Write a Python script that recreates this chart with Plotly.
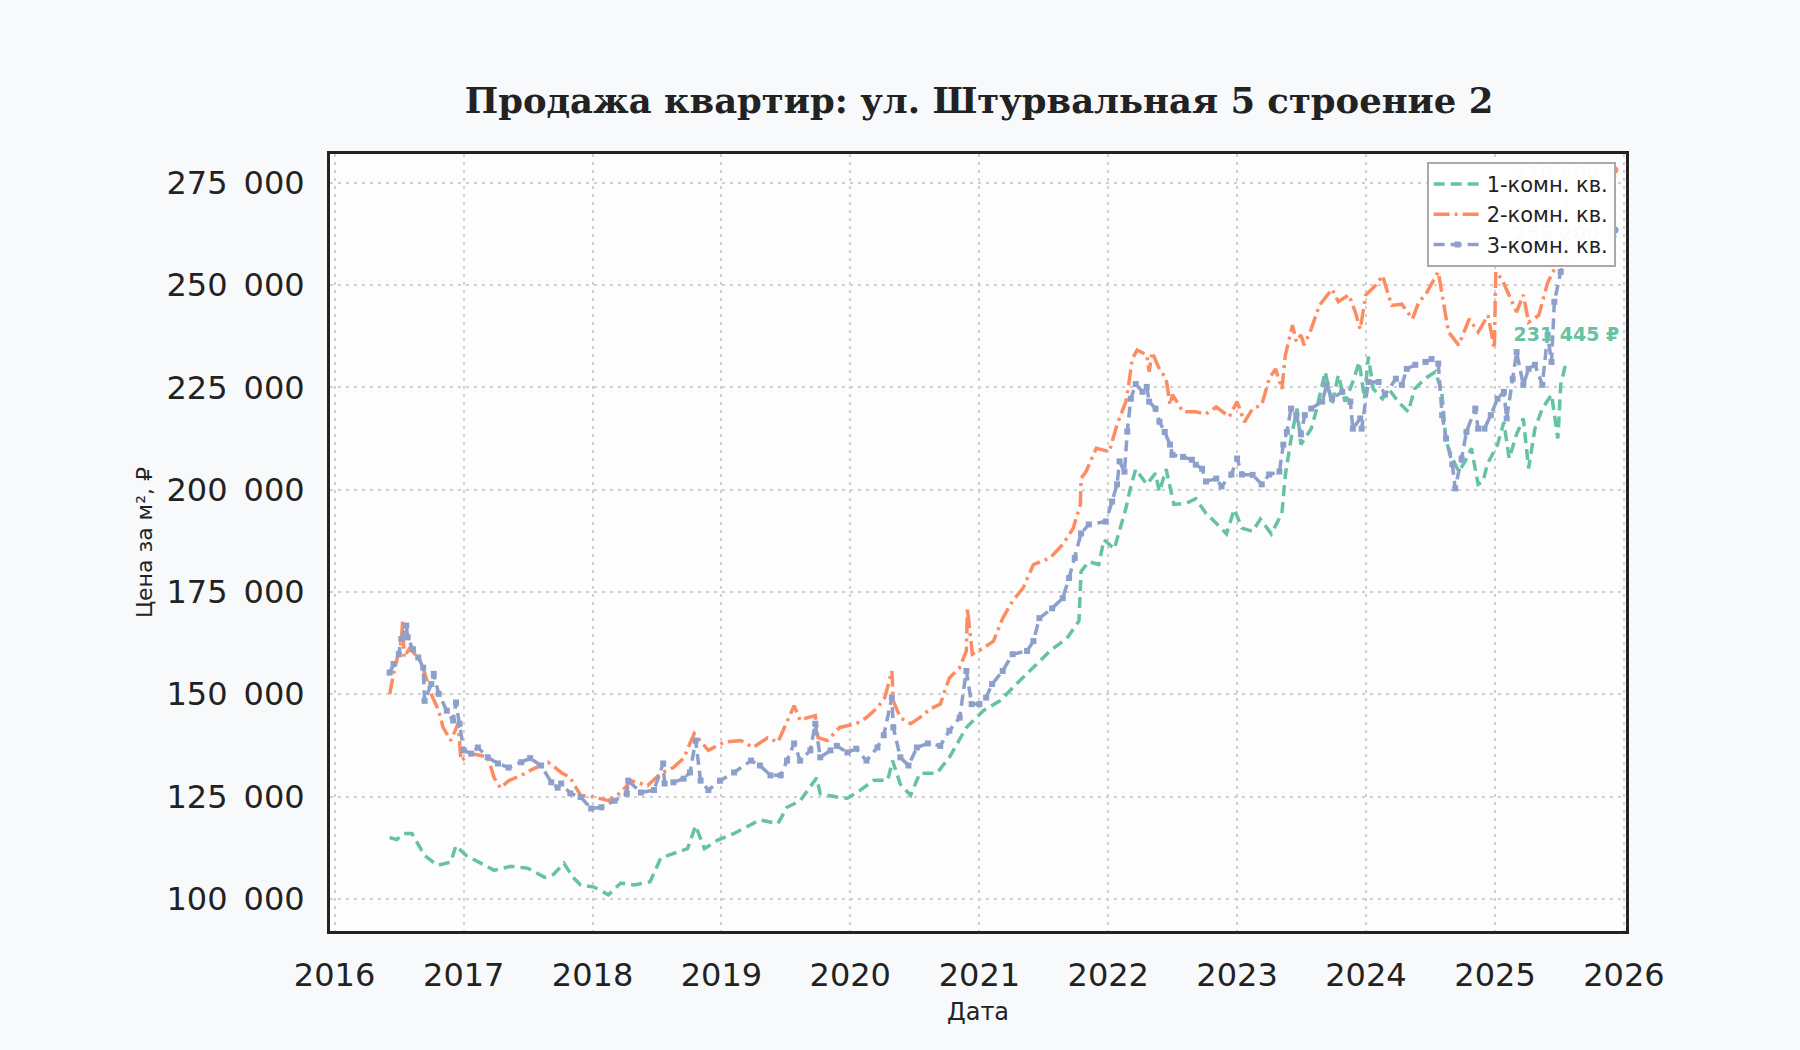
import plotly.graph_objects as go

# 1-комн. кв.
dates_1 = [
    "2016-06-05", "2016-06-25", "2016-07-15", "2016-08-07", "2016-09-12", "2016-10-18",
    "2016-11-25", "2016-12-10", "2017-01-08", "2017-02-20", "2017-03-28", "2017-05-15",
    "2017-07-01", "2017-08-18", "2017-09-12", "2017-10-12", "2017-11-06", "2017-11-28",
    "2018-01-05", "2018-02-15", "2018-03-22", "2018-04-28", "2018-06-13", "2018-07-13",
    "2018-08-18", "2018-09-27", "2018-10-20", "2018-11-14", "2018-12-20", "2019-02-06",
    "2019-04-20", "2019-06-10", "2019-07-06", "2019-08-12", "2019-09-28", "2019-10-08",
    "2019-11-24", "2019-12-24", "2020-01-30", "2020-03-08", "2020-04-16", "2020-04-30",
    "2020-05-22", "2020-06-20", "2020-07-16", "2020-09-02", "2020-10-08", "2020-11-25",
    "2021-01-12", "2021-02-28", "2021-04-16", "2021-06-03", "2021-07-20", "2021-09-06",
    "2021-10-10", "2021-10-16", "2021-11-07", "2021-12-05", "2021-12-20", "2022-01-18",
    "2022-02-02", "2022-02-20", "2022-03-06", "2022-03-20", "2022-04-20", "2022-05-15",
    "2022-05-26", "2022-06-14", "2022-07-06", "2022-08-11", "2022-09-06", "2022-10-05",
    "2022-11-03", "2022-12-02", "2022-12-24", "2023-01-15", "2023-02-14", "2023-03-08",
    "2023-04-08", "2023-05-08", "2023-05-18", "2023-05-26", "2023-06-05", "2023-06-20",
    "2023-07-01", "2023-07-30", "2023-08-10", "2023-09-08", "2023-09-27", "2023-10-15",
    "2023-11-03", "2023-11-25", "2023-12-13", "2023-12-28", "2024-01-08", "2024-01-22",
    "2024-02-17", "2024-03-06", "2024-04-01", "2024-04-30", "2024-05-18", "2024-06-18",
    "2024-07-16", "2024-08-03", "2024-08-15", "2024-09-02", "2024-09-20", "2024-10-08",
    "2024-10-26", "2024-11-14", "2024-11-28", "2024-12-10", "2025-01-08", "2025-01-26",
    "2025-02-10", "2025-03-03", "2025-03-22", "2025-04-06", "2025-04-24", "2025-05-15",
    "2025-06-10", "2025-06-28", "2025-07-06", "2025-07-22",
]
price_1 = [
    115000, 114500, 116000, 116000, 110600, 108200,
    109000, 113000, 110600, 108700, 107000, 108000,
    107500, 105300, 106000, 108700, 105300, 103400,
    102900, 101000, 103900, 103400, 104200, 110000,
    111000, 112300, 117900, 112300, 114300, 116000,
    119300, 118400, 122400, 124000, 129600, 125700,
    124900, 124600, 126600, 129000, 129000, 133800,
    128000, 125300, 130700, 130700, 134600, 141900,
    146000, 148400, 152500, 156500, 160600, 163700,
    167900, 180000, 182400, 181700, 187800, 185500,
    189800, 195400, 200800, 205000, 201300, 204000,
    199500, 205000, 196400, 196700, 197800, 194200,
    191800, 189200, 195200, 190600, 189800, 192800,
    189200, 194200, 203700, 208500, 213500, 219800,
    211000, 214900, 218200, 228800, 220700, 228000,
    221500, 226300, 231200, 222200, 232500, 224600,
    222200, 224600, 221500, 219000, 224600, 227200,
    228800, 223900, 211800, 207600, 204400, 206900,
    210100, 201300, 202000, 206200, 211000, 216500,
    207600, 213500, 217400, 205200, 214900, 219800,
    223200, 212500, 225600, 231445,
]

# 2-комн. кв.
dates_2 = [
    "2016-06-05", "2016-06-16", "2016-07-08", "2016-07-12", "2016-07-16", "2016-08-01",
    "2016-09-02", "2016-10-01", "2016-10-22", "2016-11-03", "2016-11-25", "2016-12-16",
    "2016-12-24", "2017-01-22", "2017-03-10", "2017-03-28", "2017-04-15", "2017-05-08",
    "2017-06-13", "2017-07-20", "2017-08-28", "2017-10-04", "2017-10-30", "2017-11-28",
    "2018-01-05", "2018-02-15", "2018-03-22", "2018-04-20", "2018-06-06", "2018-07-13",
    "2018-08-18", "2018-09-16", "2018-10-16", "2018-11-25", "2019-01-08", "2019-02-25",
    "2019-04-01", "2019-05-12", "2019-06-10", "2019-07-06", "2019-07-26", "2019-08-12",
    "2019-09-02", "2019-09-24", "2019-10-02", "2019-10-28", "2019-12-02", "2020-01-18",
    "2020-02-16", "2020-03-18", "2020-04-08", "2020-04-28", "2020-05-02", "2020-05-22",
    "2020-06-20", "2020-07-16", "2020-08-14", "2020-09-12", "2020-10-08", "2020-11-06",
    "2020-11-25", "2020-11-28", "2020-12-12", "2021-01-12", "2021-02-10", "2021-03-08",
    "2021-04-05", "2021-05-05", "2021-06-03", "2021-07-20", "2021-08-25", "2021-09-24",
    "2021-10-14", "2021-10-16", "2021-10-30", "2021-11-28", "2022-01-04", "2022-01-26",
    "2022-02-20", "2022-02-28", "2022-03-10", "2022-03-24", "2022-04-20", "2022-04-27",
    "2022-05-05", "2022-05-26", "2022-06-14", "2022-06-25", "2022-07-02", "2022-08-01",
    "2022-09-06", "2022-10-05", "2022-11-03", "2022-12-10", "2023-01-01", "2023-01-22",
    "2023-02-14", "2023-03-12", "2023-04-02", "2023-04-20", "2023-05-08", "2023-05-18",
    "2023-06-07", "2023-06-18", "2023-07-01", "2023-07-10", "2023-07-30", "2023-08-22",
    "2023-09-27", "2023-10-15", "2023-11-14", "2023-12-02", "2023-12-16", "2024-01-01",
    "2024-01-30", "2024-02-17", "2024-03-14", "2024-04-12", "2024-05-12", "2024-05-30",
    "2024-06-18", "2024-07-24", "2024-08-04", "2024-08-22", "2024-09-20", "2024-10-20",
    "2024-11-14", "2024-12-12", "2024-12-30", "2025-01-03", "2025-01-20", "2025-02-10",
    "2025-03-03", "2025-03-22", "2025-04-06", "2025-05-05", "2025-05-30", "2025-06-18",
    "2025-07-06", "2025-07-22",
]
price_2 = [
    150000, 155000, 163000, 168000, 159000, 161300,
    158000, 150000, 146000, 142000, 138700, 142800,
    133800, 135500, 134700, 129600, 127100, 128900,
    130200, 131900, 133400, 130900, 129600, 125300,
    124900, 124000, 126000, 128900, 127700, 130700,
    132100, 134400, 140400, 136300, 138300, 138700,
    137000, 139400, 138300, 143600, 147200, 143600,
    144300, 144800, 139400, 138700, 141900, 142800,
    144300, 146700, 149200, 155700, 148400, 144300,
    142800, 144300, 146400, 147600, 154000, 156500,
    160600, 171000, 159800, 161300, 163000, 168600,
    172800, 176000, 181700, 183300, 186600, 190600,
    196400, 202700, 204400, 210100, 209300, 215900,
    221500, 225600, 231900, 234100, 232900, 228800,
    233600, 229500, 227100, 220700, 223200, 219000,
    219000, 218500, 220200, 217800, 221500, 216500,
    219800, 220700, 227100, 229500, 224600, 232900,
    240200, 236100, 237800, 235300, 239200, 245000,
    249000, 245900, 247600, 243400, 239200, 247600,
    250000, 252300, 245000, 245300, 241700, 245900,
    247600, 253200, 247600, 238500, 235300, 241700,
    238500, 242600, 234400, 253200, 251500, 247600,
    243400, 247600, 240900, 242600, 250600, 253800,
    262000, 270800,
]

# 3-комн. кв.
dates_3 = [
    "2016-06-05", "2016-06-16", "2016-07-01", "2016-07-08", "2016-07-22", "2016-07-26",
    "2016-08-10", "2016-08-25", "2016-09-08", "2016-09-12", "2016-10-01", "2016-10-08",
    "2016-10-22", "2016-11-14", "2016-12-02", "2016-12-10", "2016-12-20", "2017-01-01",
    "2017-01-22", "2017-02-10", "2017-03-10", "2017-04-08", "2017-05-08", "2017-06-13",
    "2017-07-08", "2017-08-08", "2017-09-06", "2017-09-24", "2017-10-04", "2017-10-30",
    "2017-11-28", "2017-12-28", "2018-01-26", "2018-03-04", "2018-04-08", "2018-04-12",
    "2018-05-18", "2018-06-24", "2018-07-20", "2018-07-24", "2018-08-18", "2018-09-16",
    "2018-10-04", "2018-10-20", "2018-11-03", "2018-11-25", "2018-12-28", "2019-02-06",
    "2019-03-26", "2019-04-20", "2019-05-20", "2019-06-18", "2019-07-06", "2019-07-26",
    "2019-08-12", "2019-09-10", "2019-09-24", "2019-10-08", "2019-11-06", "2019-11-24",
    "2019-12-24", "2020-01-18", "2020-02-16", "2020-03-18", "2020-04-05", "2020-04-28",
    "2020-05-02", "2020-05-22", "2020-06-14", "2020-07-08", "2020-08-08", "2020-09-12",
    "2020-10-08", "2020-11-06", "2020-11-25", "2020-12-10", "2021-01-01", "2021-01-20",
    "2021-02-06", "2021-03-08", "2021-04-05", "2021-05-16", "2021-06-03", "2021-06-20",
    "2021-07-26", "2021-08-25", "2021-09-12", "2021-09-28", "2021-10-16", "2021-11-07",
    "2021-12-25", "2022-01-12", "2022-01-26", "2022-02-02", "2022-02-16", "2022-02-24",
    "2022-03-06", "2022-03-20", "2022-04-08", "2022-04-20", "2022-04-27", "2022-05-15",
    "2022-05-26", "2022-06-10", "2022-06-25", "2022-07-02", "2022-08-01", "2022-08-26",
    "2022-09-06", "2022-09-24", "2022-10-05", "2022-11-03", "2022-11-18", "2022-12-16",
    "2023-01-01", "2023-01-15", "2023-02-14", "2023-03-12", "2023-04-02", "2023-05-01",
    "2023-05-12", "2023-05-22", "2023-06-03", "2023-06-18", "2023-07-01", "2023-07-12",
    "2023-07-30", "2023-08-30", "2023-09-12", "2023-09-27", "2023-10-26", "2023-11-18",
    "2023-11-25", "2023-12-16", "2023-12-20", "2024-01-08", "2024-02-06", "2024-02-24",
    "2024-03-26", "2024-04-12", "2024-04-26", "2024-05-20", "2024-06-18", "2024-07-05",
    "2024-07-24", "2024-08-04", "2024-08-15", "2024-09-02", "2024-09-10", "2024-09-28",
    "2024-10-12", "2024-11-06", "2024-11-14", "2024-12-02", "2024-12-20", "2025-01-08",
    "2025-01-26", "2025-02-03", "2025-02-20", "2025-03-03", "2025-03-22", "2025-04-06",
    "2025-04-24", "2025-05-15", "2025-05-30", "2025-06-10", "2025-06-18", "2025-07-06",
    "2025-07-22",
]
price_3 = [
    155300, 157400, 159800, 163500, 166800, 163900,
    161000, 159000, 156500, 148400, 152500, 155000,
    150100, 146000, 143600, 148000, 142800, 136300,
    135500, 137000, 134600, 133100, 132100, 133400,
    134400, 132600, 128500, 127200, 128200, 125800,
    124900, 122100, 122400, 124000, 125700, 128900,
    126000, 126600, 133100, 128200, 128500, 129400,
    130900, 138700, 128900, 126600, 128900, 130900,
    133800, 132600, 130200, 130200, 133800, 138000,
    133800, 136300, 142800, 134600, 136300, 137400,
    135800, 136700, 133800, 137000, 140000, 149200,
    141900, 134600, 132600, 137000, 138000, 137400,
    141100, 144300, 155700, 147600, 147600, 149200,
    152500, 155700, 159800, 160600, 163000, 168600,
    171000, 173500, 178400, 183300, 189300, 191500,
    192200, 197100, 201300, 206900, 204400, 214200,
    222200, 225800, 223900, 225100, 221500, 219800,
    216600, 214100, 211000, 208500, 208000, 207300,
    206100, 205100, 202000, 202700, 200800, 203700,
    207600, 203700, 203600, 201300, 203700, 204400,
    211000, 214100, 219800, 218200, 213500, 218200,
    219800, 221500, 225600, 222200, 223900, 221500,
    214900, 217400, 214900, 226300, 226300, 223200,
    227100, 225600, 229500, 230500, 231200, 231900,
    230800, 218200, 212500, 206200, 200300, 207600,
    214100, 219800, 214900, 214900, 218200, 222200,
    223900, 217400, 227100, 233600, 225600, 229500,
    230500, 225600, 237800, 231200, 245900, 253200,
    256200,
]

series_names = ["1-комн. кв.", "2-комн. кв.", "3-комн. кв."]
y_ticks = [100000, 125000, 150000, 175000, 200000, 225000, 250000, 275000]
x_ticks = ["2016-01-01", "2017-01-01", "2018-01-01", "2019-01-01", "2020-01-01", "2021-01-01",
           "2022-01-01", "2023-01-01", "2024-01-01", "2025-01-01", "2026-01-01"]
x_tick_text = ["2016", "2017", "2018", "2019", "2020", "2021", "2022", "2023", "2024", "2025", "2026"]

green = "#66c2a5"
orange = "#fc8d62"
blue = "#8da0cb"
ink = "#222222"


def fmt_num(v, sep=" "):
    return f"{v:,}".replace(",", sep)


fig = go.Figure()

fig.add_trace(go.Scatter(
    x=dates_1, y=price_1, name=series_names[0], mode="lines",
    line=dict(color=green, width=3.5, dash="11px,6px"),
))
fig.add_trace(go.Scatter(
    x=dates_2, y=price_2, name=series_names[1], mode="lines",
    line=dict(color=orange, width=3.5, dash="16px,5px,3px,5px"),
))
fig.add_trace(go.Scatter(
    x=dates_3, y=price_3, name=series_names[2], mode="lines+markers",
    line=dict(color=blue, width=3.5, dash="11px,6px"),
    marker=dict(symbol="square", size=6, color=blue),
))

# подписи последних значений (текстовые трассы, чтобы легенда была поверх)
label_lift = 6000
for d, p, c in [(dates_1, price_1, green), (dates_2, price_2, orange), (dates_3, price_3, blue)]:
    fig.add_trace(go.Scatter(
        x=[d[-1]], y=[p[-1] + label_lift], mode="text",
        text=[fmt_num(p[-1]) + " ₽"], textposition="middle center",
        textfont=dict(family="DejaVu Sans", size=19, color=c, weight="bold"),
        showlegend=False, hoverinfo="skip", cliponaxis=False,
    ))

fig.update_layout(
    width=1800, height=1050,
    paper_bgcolor="#f8f9fb",
    plot_bgcolor="#fdfdfe",
    margin=dict(l=330, r=174, t=154, b=119),
    separators=", ",
    title=dict(
        text="<b>Продажа квартир: ул. Штурвальная 5 строение 2</b>",
        x=0.5439, xanchor="center", y=1 - 101 / 1050, yanchor="middle",
        font=dict(family="DejaVu Serif", size=35.4, color=ink),
    ),
    font=dict(family="DejaVu Sans", color=ink),
    legend=dict(
        x=0.992, xanchor="right", y=0.99, yanchor="top",
        bgcolor="rgba(255,255,255,0.96)", bordercolor="#aaaaaa", borderwidth=2,
        font=dict(size=21, color=ink),
        itemwidth=48,
        tracegroupgap=0,
    ),
    showlegend=True,
)

fig.update_xaxes(
    type="date",
    range=["2015-12-19", "2026-01-07"],
    tickvals=x_ticks, ticktext=x_tick_text,
    tickfont=dict(size=32, color=ink),
    ticks="", ticklabelstandoff=14,
    showgrid=True, gridcolor="#d0d0d0", gridwidth=2, griddash="3px,5px",
    showline=True, linecolor=ink, linewidth=3, mirror=True,
    zeroline=False,
    title=dict(text="Дата", font=dict(size=24, color=ink), standoff=10),
)
fig.update_yaxes(
    range=[92170, 282000],
    tickvals=y_ticks, ticktext=[fmt_num(v, "\u2002") for v in y_ticks],
    tickfont=dict(size=32, color=ink),
    ticks="", ticklabelstandoff=16,
    showgrid=True, gridcolor="#d0d0d0", gridwidth=2, griddash="3px,5px",
    showline=True, linecolor=ink, linewidth=3, mirror=True,
    zeroline=False,
    title=dict(text="Цена за м², ₽", font=dict(size=22, color=ink), standoff=8),
)

fig.write_html(
    "out.html",
    config={"displayModeBar": False},
    post_script="document.body.style.margin='0';document.body.style.background='#f8f9fb';",
)
